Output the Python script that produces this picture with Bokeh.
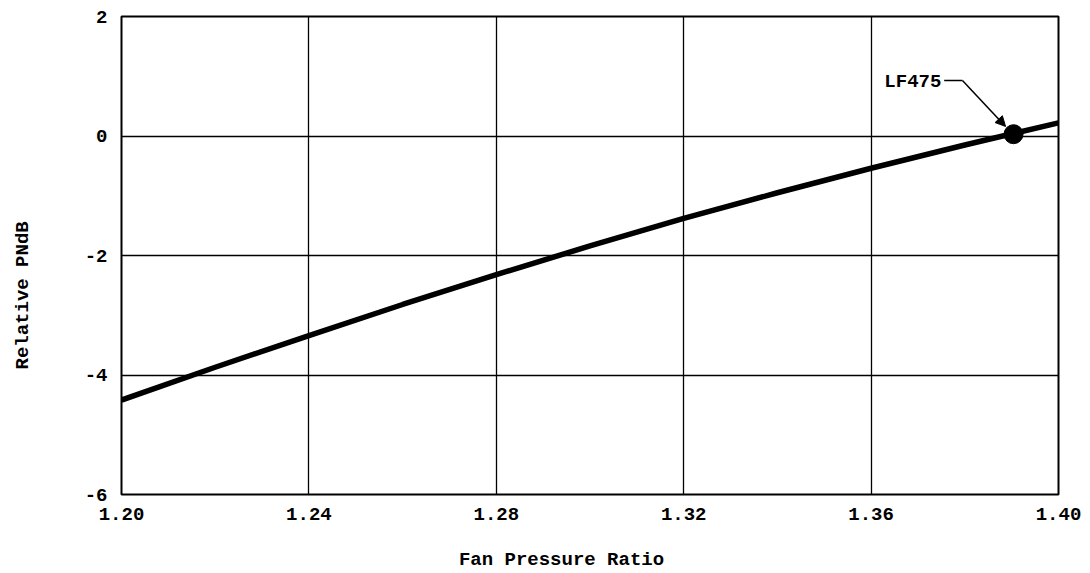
from bokeh.plotting import figure
from bokeh.models import (FixedTicker, PrintfTickFormatter, Range1d, Arrow,
                          NormalHead, Label, ColumnDataSource)
from bokeh.embed import file_html
from bokeh.resources import INLINE

# Relative noise level against fan pressure ratio
fan_pressure_ratio = [1.20, 1.22, 1.24, 1.26, 1.28, 1.30, 1.32, 1.34, 1.36, 1.38, 1.40]
relative_pndb = [-4.42, -3.87, -3.34, -2.82, -2.32, -1.84, -1.38, -0.95, -0.54, -0.15, 0.22]

# Selected design point
design_name = "LF475"
design_fpr = 1.3904
design_pndb = 0.03

x_ticks = [1.20, 1.24, 1.28, 1.32, 1.36, 1.40]
y_ticks = [2, 0, -2, -4, -6]

# trailing no-break spaces shift each title off the frame centre
x_title = "Fan Pressure Ratio" + "\u00a0" * 5
y_title = "Relative PNdB" + "\u00a0" * 7

FONT = "Liberation Mono"
SIZE = "19px"

p = figure(width=1090, height=573, output_backend="svg", toolbar_location=None,
           x_range=Range1d(1.20, 1.40), y_range=Range1d(-6, 2),
           min_border_left=121, min_border_right=32, min_border_top=16,
           min_border_bottom=79)

p.background_fill_color = "white"
p.border_fill_color = "white"
p.outline_line_color = "black"
p.outline_line_width = 2

for ax in (p.xaxis, p.yaxis):
    ax.axis_line_color = None
    ax.major_tick_line_color = None
    ax.minor_tick_line_color = None
    ax.major_label_text_font = FONT
    ax.major_label_text_font_size = SIZE
    ax.major_label_text_font_style = "bold"
    ax.major_label_text_color = "black"
    ax.axis_label_text_font = FONT
    ax.axis_label_text_font_size = SIZE
    ax.axis_label_text_font_style = "bold"
    ax.axis_label_text_color = "black"

p.xaxis.ticker = FixedTicker(ticks=x_ticks)
p.xaxis.formatter = PrintfTickFormatter(format="%.2f")
p.xaxis.major_label_standoff = 7
p.xaxis.axis_label = x_title
p.xaxis.axis_label_standoff = 26

p.yaxis.ticker = FixedTicker(ticks=y_ticks)
p.yaxis.formatter = PrintfTickFormatter(format="%d")
p.yaxis.major_label_standoff = 8
p.yaxis.axis_label = y_title
p.yaxis.axis_label_standoff = 48

p.xgrid.ticker = FixedTicker(ticks=x_ticks)
p.ygrid.ticker = FixedTicker(ticks=y_ticks)
for g in (p.xgrid, p.ygrid):
    g.grid_line_color = "black"
    g.grid_line_width = 1.3
    g.grid_line_alpha = 1.0

src = ColumnDataSource(dict(x=fan_pressure_ratio, y=relative_pndb))
p.line("x", "y", source=src, line_color="black", line_width=5.5)

p.scatter([design_fpr], [design_pndb], size=19, marker="circle",
          fill_color="black", line_color="black")

# Leader from the label to the design point
bend_x, bend_y = design_fpr - 0.0109, design_pndb + 0.90
start_x = design_fpr - 0.0148
p.line([start_x, bend_x], [bend_y, bend_y], line_color="black", line_width=1.5)
p.add_layout(Arrow(end=NormalHead(size=10, fill_color="black", line_color="black"),
                   x_start=bend_x, y_start=bend_y,
                   x_end=design_fpr - 0.0017, y_end=design_pndb + 0.13,
                   line_color="black", line_width=1.5))
p.add_layout(Label(x=start_x - 0.0006, y=bend_y - 0.03, text=design_name,
                   text_font=FONT, text_font_size=SIZE, text_font_style="bold",
                   text_color="black", text_align="right",
                   text_baseline="middle"))

open("out.html", "w").write(file_html(p, INLINE))
